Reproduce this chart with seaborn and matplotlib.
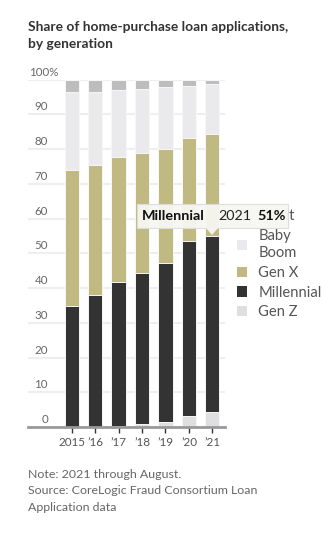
import matplotlib
matplotlib.use("Agg")
import matplotlib.pyplot as plt
import seaborn as sns
import numpy as np
import pandas as pd
from matplotlib.patches import Patch, FancyBboxPatch, Polygon

years = ["2015", "2016", "2017", "2018", "2019", "2020", "2021"]
year_labels = ["2015", "\u201916", "\u201917", "\u201918", "\u201919", "\u201920", "\u201921"]
generations = ["Gen Z", "Millennial", "Gen X", "Baby Boom", "Silent"]
gen_z = [0.1, 0.1, 0.4, 0.8, 1.4, 3.1, 4.3]
millennial = [34.7, 37.9, 41.3, 43.5, 45.8, 50.4, 50.8]
gen_x = [39.2, 37.4, 35.9, 34.5, 32.8, 29.6, 29.2]
baby_boom = [22.3, 21.0, 19.5, 18.6, 17.8, 14.9, 14.3]
silent = [3.7, 3.6, 2.9, 2.6, 2.2, 2.0, 1.4]
colors = {"Gen Z": "#dfdfe1", "Millennial": "#333333", "Gen X": "#c0ba82",
          "Baby Boom": "#eaeaec", "Silent": "#bdbdbd"}
y_ticks = [0, 10, 20, 30, 40, 50, 60, 70, 80, 90, 100]

df = pd.DataFrame({"year": years, "Gen Z": gen_z, "Millennial": millennial,
                   "Gen X": gen_x, "Baby Boom": baby_boom, "Silent": silent})
cum = df[generations].cumsum(axis=1)
cum["year"] = df["year"]

sns.set_theme(style="white")
plt.rcParams["font.family"] = ["Lato", "DejaVu Sans"]

W, H = 333, 539
fig = plt.figure(figsize=(W / 100, H / 100), dpi=100)
ax = fig.add_axes([28.3 / W, 1 - 427 / H, (225 - 28.3) / W, (427 - 79.5) / H])

for g in reversed(generations):
    sns.barplot(data=cum, x="year", y=g, order=years, color=colors[g], width=0.61,
                saturation=1, edgecolor="#f7f7f7", linewidth=0.7, ax=ax, zorder=3)

ax.set_xlim(-1.85, 6.54)
ax.set_ylim(0, 100)
ax.set_xlabel("")
ax.set_ylabel("")
for s in ["top", "right", "left"]:
    ax.spines[s].set_visible(False)
ax.spines["bottom"].set_color("#999999")
ax.spines["bottom"].set_linewidth(2)
ax.spines["bottom"].set_zorder(4)

ax.set_yticks(y_ticks)
ax.set_yticklabels([])
ax.tick_params(axis="y", length=0)
ax.yaxis.grid(True, color="#eeeeee", linewidth=1.5, zorder=0)
ax.set_axisbelow(True)
for v in y_ticks:
    if v == 100:
        ax.text(0.003, v + 1.1, "100%", transform=ax.get_yaxis_transform(), ha="left",
                va="baseline", fontsize=8.3, color="#666666", clip_on=False)
    else:
        ax.text(0.100, v + 1.1, str(v), transform=ax.get_yaxis_transform(), ha="right",
                va="baseline", fontsize=8.3, color="#666666", clip_on=False)

ax.set_xticks(range(len(years)))
ax.set_xticklabels(year_labels, fontsize=8.4, color="#555555")
ax.tick_params(axis="x", length=4, width=1, color="#333333", pad=3, direction="out",
               bottom=True)

# title
fig.text(28 / W, 1 - 21 / H, "Share of home-purchase loan applications,\nby generation",
         ha="left", va="top", fontsize=9.9, fontweight="bold", color="#333333",
         linespacing=1.5)

# footnotes
fig.text(28 / W, 1 - 469 / H,
         "Note: 2021 through August.\nSource: CoreLogic Fraud Consortium Loan\nApplication data",
         ha="left", va="top", fontsize=8.9, color="#666666", linespacing=1.6)

# legend
handles = [Patch(facecolor=colors[g], edgecolor="none") for g in reversed(generations)]
labels = ["Silent", "Baby\nBoom", "Gen X", "Millennial", "Gen Z"]
leg = fig.legend(handles, labels, loc="upper left", bbox_to_anchor=(237 / W, 1 - 209 / H),
                 frameon=False, fontsize=10.6, handlelength=0.7, handleheight=0.7,
                 handletextpad=0.75, labelspacing=0.38, borderaxespad=0, borderpad=0)
for t in leg.get_texts():
    t.set_color("#555555")
    t.set_linespacing(1.35)

# tooltip
i = years.index("2021")
mil_val = millennial[i]
x0, x1, y0, y1 = 137, 288, 204, 228
tip_x = 212
box = FancyBboxPatch((x0 / W, 1 - y1 / H), (x1 - x0) / W, (y1 - y0) / H,
                     boxstyle="square,pad=0", transform=fig.transFigure,
                     facecolor="#f6f6f2", edgecolor="#dddddd", linewidth=0.8,
                     alpha=0.95, zorder=10)
fig.add_artist(box)
tri = Polygon([((tip_x - 6) / W, 1 - y1 / H), ((tip_x + 6) / W, 1 - y1 / H),
               (tip_x / W, 1 - (y1 + 7) / H)], closed=True, transform=fig.transFigure,
              facecolor="#f6f6f2", edgecolor="none", alpha=0.95, zorder=10)
fig.add_artist(tri)
ty = 1 - 216 / H
fig.text(142 / W, ty, "Millennial", ha="left", va="center", fontsize=10.4,
         fontweight="bold", color="#111111", zorder=11)
fig.text(218 / W, ty, "2021", ha="left", va="center", fontsize=10.4, color="#222222",
         zorder=11)
fig.text(257 / W, ty, f"{mil_val:.0f}%", ha="left", va="center", fontsize=10.4,
         fontweight="bold", color="#111111", zorder=11)

fig.savefig("out.png", dpi=100, facecolor="white")
